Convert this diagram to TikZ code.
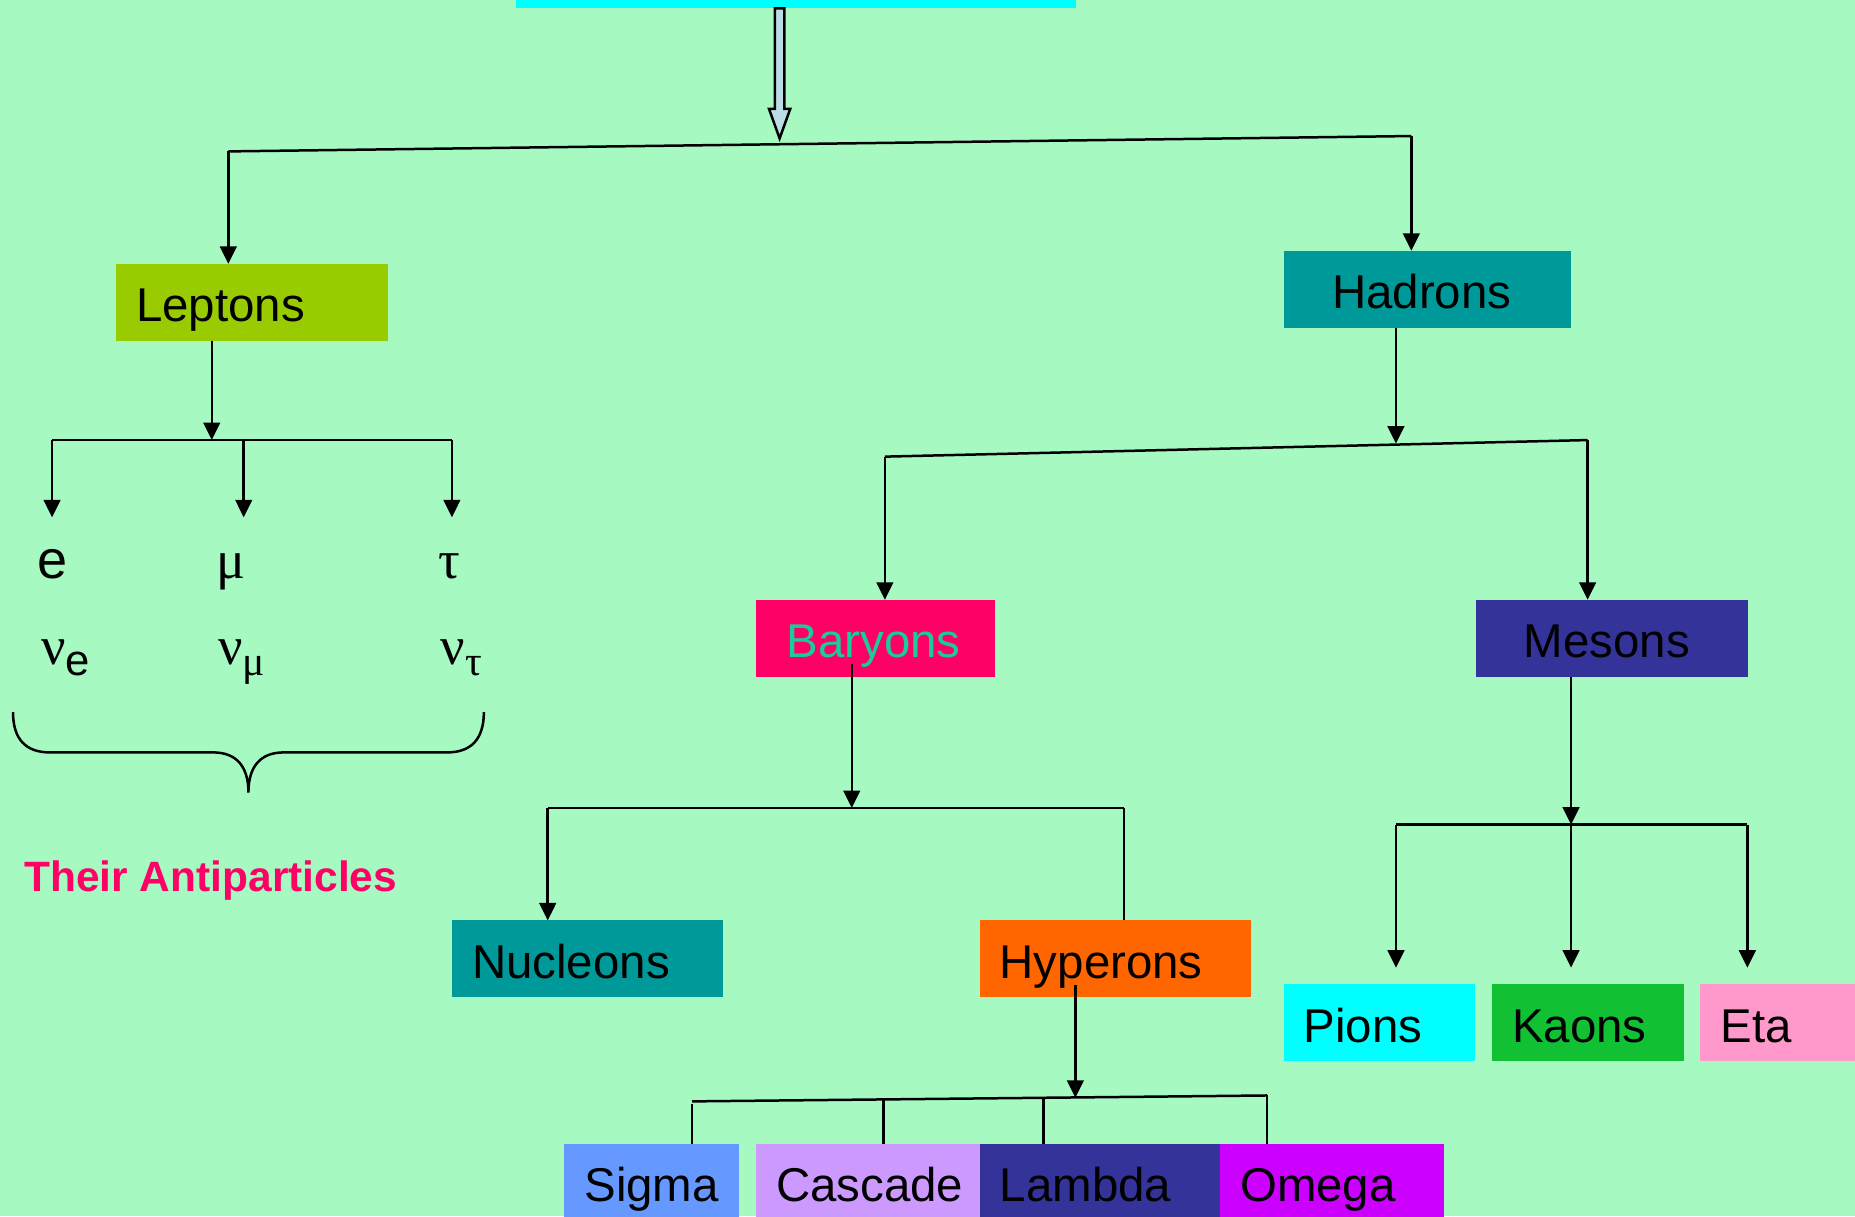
\documentclass[tikz,border=0pt]{standalone}
\usepackage{fontspec}
\setmainfont{Liberation Sans}
\newfontfamily\grk{Liberation Serif}
\usetikzlibrary{arrows.meta,positioning}

\definecolor{bg}{RGB}{166,249,192}
\definecolor{aqua}{RGB}{0,255,255}
\definecolor{lepgreen}{RGB}{153,204,0}
\definecolor{hadteal}{RGB}{0,153,153}
\definecolor{barypink}{RGB}{255,0,102}
\definecolor{barytext}{RGB}{26,204,153}
\definecolor{mesblue}{RGB}{51,51,153}
\definecolor{hyporange}{RGB}{255,102,0}
\definecolor{sigblue}{RGB}{102,153,255}
\definecolor{caslilac}{RGB}{204,153,255}
\definecolor{omgviolet}{RGB}{204,0,255}
\definecolor{kaongreen}{RGB}{17,193,51}
\definecolor{etapink}{RGB}{255,153,204}
\definecolor{arrowfill}{RGB}{187,222,230}

\begin{document}
\begin{tikzpicture}[
    x=0.01cm, y=-0.01cm,
    node distance=0.14cm,
    box/.style={rectangle, anchor=north west, outer sep=0pt, inner xsep=0.17cm, inner ysep=0pt, minimum height=0.65cm, text height=0.40cm, text depth=0.07cm, align=left, font=\fontsize{11.4}{13.7}\selectfont},
    lep/.style={anchor=base, inner sep=0pt, text height=0.24cm, font=\fontsize{13}{15}\selectfont},
    grk/.style={lep, font=\fontsize{13}{15}\selectfont\grk},
    link/.style={line width=0.6pt},
    arr/.style={link, -{Triangle[length=4.2pt, width=4pt]}},
    hollow/.style={draw, line width=0.6pt, fill=arrowfill, line join=miter}
]
\useasboundingbox (0,0) rectangle (1568,1028);
\fill[bg] (0,0) rectangle (1568,1028);

% Nodes
\node[box, fill=aqua, minimum width=4.73cm, anchor=south west] (source) at (436,7) {};
\node[box, fill=lepgreen, text width=1.96cm] (leptons) at (98,223) {Leptons};
\node[box, fill=hadteal, inner xsep=0.41cm, text width=1.61cm] (hadrons) at (1085,212) {Hadrons};
\node[box, fill=barypink, text=barytext, inner xsep=0.26cm, text width=1.50cm] (baryons) at (639,507) {Baryons};
\node[box, fill=mesblue, inner xsep=0.40cm, text width=1.49cm] (mesons) at (1248,507) {Mesons};
\node[box, fill=hadteal, text width=1.95cm] (nucleons) at (382,778) {Nucleons};
\node[box, fill=hyporange, text width=1.95cm] (hyperons) at (828,778) {Hyperons};
\node[box, fill=sigblue, text width=1.14cm] (sigma) at (477,967) {Sigma};
\node[box, fill=caslilac, text width=1.55cm, right=of sigma] (cascade) {Cascade};
\node[box, fill=mesblue, text width=1.69cm, right=0pt of cascade] (lambda) {Lambda};
\node[box, fill=omgviolet, text width=1.55cm, right=0pt of lambda] (omega) {Omega};
\node[box, fill=aqua, text width=1.28cm] (pions) at (1085,832) {Pions};
\node[box, fill=kaongreen, text width=1.28cm, right=of pions] (kaons) {Kaons};
\node[box, fill=etapink, text width=1.28cm, right=of kaons] (eta) {Eta};

% Leptons and their neutrinos
\node[lep] (e) at (44,489) {e};
\node[grk] (mu) at (195,489) {μ};
\node[grk] (tau) at (380,489) {τ};
\node[lep, anchor=base west] (nue) at (34,562) {{\grk ν}\raisebox{-0.09cm}{\fontsize{10.5}{12}\selectfont e}};
\node[lep, anchor=base west] (numu) at (184,562) {{\grk ν}\raisebox{-0.09cm}{\fontsize{10}{12}\selectfont\grk μ}};
\node[lep, anchor=base west] (nutau) at (372,562) {{\grk ν}\raisebox{-0.09cm}{\fontsize{10}{12}\selectfont\grk τ}};
\draw[link] (11,602) .. controls (11,625) and (22,636) .. (42,636) -- (180,636)
    .. controls (200,636) and (210,648) .. (210,670)
    .. controls (210,648) and (220,636) .. (240,636) -- (378,636)
    .. controls (398,636) and (409,625) .. (409,602);
\node[anchor=base west, inner sep=0pt, text=barypink, font=\bfseries\fontsize{10.2}{12}\selectfont] (anti) at (20,754) {Their Antiparticles};

% Arrows
\draw[hollow] (source.south west) ++(219,0) -- ++(0,85) -- ++(-5,0) -- ++(9,25) -- ++(9,-25) -- ++(-5,0) -- ++(0,-85) -- cycle;
\coordinate (bl) at (193,128);
\coordinate (br) at (1193,115);
\draw[link] (bl) -- (br);
\draw[arr] (bl) -- (bl |- leptons.north);
\draw[arr] (br) -- (br |- hadrons.north);

\coordinate (lj) at (179,372);
\coordinate (ll) at (44,372);
\coordinate (lm) at (206,372);
\coordinate (lr) at (382,372);
\draw[arr] (lj |- leptons.south) -- (lj);
\draw[link] (ll) -- (lr);
\draw[arr, shorten >=0.27cm] (ll) -- (ll |- e.north);
\draw[arr, shorten >=0.27cm] (lm) -- (lm |- mu.north);
\draw[arr, shorten >=0.27cm] (lr) -- (lr |- tau.north);

\coordinate (hj) at (1180,375);
\coordinate (hl) at (748,386);
\coordinate (hr) at (1342,372);
\draw[arr] (hj |- hadrons.south) -- (hj);
\draw[link] (hl) -- (hr);
\draw[arr] (hl) -- (hl |- baryons.north);
\draw[arr] (hr) -- (hr |- mesons.north);

\coordinate (bj) at (720,683);
\coordinate (nl) at (463,683);
\coordinate (nr) at (950,683);
\draw[arr, shorten <=-0.11cm] (bj |- baryons.south) -- (bj);
\draw[link] (nl) -- (nr);
\draw[arr] (nl) -- (nl |- nucleons.north);
\draw[link] (nr) -- (nr |- hyperons.north);

\coordinate (yj) at (909,928);
\coordinate (ya) at (585,931);
\coordinate (yb) at (747,929);
\coordinate (yc) at (882,928);
\coordinate (yd) at (1071,926);
\draw[arr, shorten <=-0.10cm] (yj |- hyperons.south) -- (yj);
\draw[link] (ya) -- (yd);
\draw[link, shorten <=0.02cm] (ya) -- (ya |- sigma.north);
\draw[link] (yb) -- (yb |- cascade.north);
\draw[link] (yc) -- (yc |- lambda.north);
\draw[link] (yd) -- (yd |- omega.north);

\coordinate (mj) at (1328,697);
\coordinate (ml) at (1180,697);
\coordinate (mr) at (1477,697);
\draw[arr] (mj |- mesons.south) -- (mj);
\draw[link] (ml) -- (mr);
\draw[arr, shorten >=0.14cm] (ml) -- (ml |- pions.north);
\draw[arr, shorten >=0.14cm] (mj) -- (mj |- kaons.north);
\draw[arr, shorten >=0.14cm] (mr) -- (mr |- eta.north);

\end{tikzpicture}
\end{document}
